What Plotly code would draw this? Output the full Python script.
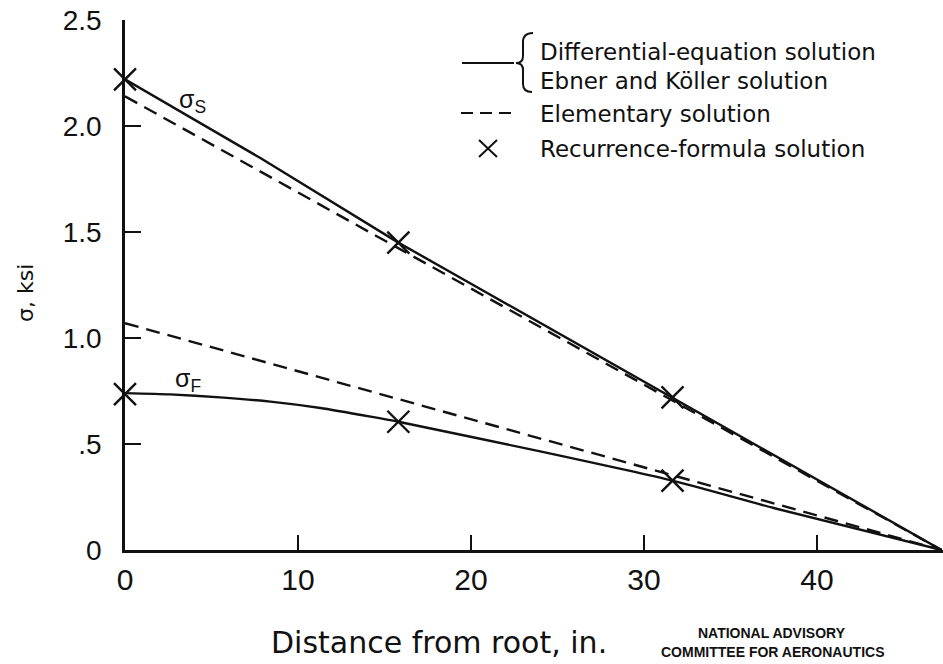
import plotly.graph_objects as go

# ---- data ----
x_s_diff = [0, 7.8, 15.8, 31.65, 47.2]
y_s_diff = [2.22, 1.85, 1.45, 0.72, 0.0]

x_s_elem = [0, 47.2]
y_s_elem = [2.14, 0.0]

x_f_diff = [0, 2.6, 5.5, 8.4, 11.3, 14.2, 15.8, 24.0, 31.65, 37.5, 47.2]
y_f_diff = [0.74, 0.734, 0.72, 0.70, 0.67, 0.629, 0.605, 0.465, 0.327, 0.198, 0.0]

x_f_elem = [0, 47.2]
y_f_elem = [1.07, 0.0]

x_rec = [0, 15.8, 31.65]
y_rec_s = [2.22, 1.45, 0.72]
y_rec_f = [0.735, 0.605, 0.327]

x_ticks = [0, 10, 20, 30, 40]
x_tick_labels = ["0", "10", "20", "30", "40"]
y_ticks = [0, 0.5, 1.0, 1.5, 2.0, 2.5]
y_tick_labels = ["0", ".5", "1.0", "1.5", "2.0", "2.5"]

legend_labels = ["Differential-equation solution", "Ebner and Köller solution",
                 "Elementary solution", "Recurrence-formula solution"]

# ---- layout geometry ----
W, H = 943, 664
ML, MR, MT, MB = 125, 0, 20, 114
PW, PH = W - ML - MR, H - MT - MB


def px(x):
    return (x - ML) / PW


def py(y):
    return (H - MB - y) / PH


FONT = "Liberation Sans, Arial, sans-serif"
TFONT = "DejaVu Sans, sans-serif"
BLACK = "#111111"
LW = 2.4

fig = go.Figure()

solid = dict(color=BLACK, width=LW)
dashed = dict(color=BLACK, width=LW, dash="14px,8px")

fig.add_trace(go.Scatter(x=x_s_elem, y=y_s_elem, mode="lines", line=dashed, showlegend=False))
fig.add_trace(go.Scatter(x=x_f_elem, y=y_f_elem, mode="lines", line=dashed, showlegend=False))
fig.add_trace(go.Scatter(x=x_s_diff, y=y_s_diff, mode="lines", line=solid, showlegend=False))
fig.add_trace(go.Scatter(x=x_f_diff, y=y_f_diff, mode="lines", line=dict(solid, shape="spline", smoothing=0.6),
                         showlegend=False))
marker = dict(symbol="x-thin", size=22, line=dict(color=BLACK, width=2.4), color=BLACK)
fig.add_trace(go.Scatter(x=x_rec, y=y_rec_s, mode="markers", marker=marker, showlegend=False, cliponaxis=False))
fig.add_trace(go.Scatter(x=x_rec, y=y_rec_f, mode="markers", marker=marker, showlegend=False, cliponaxis=False))

annotations = []
# curve labels
annotations.append(dict(x=3.9, y=2.12, xref="x", yref="y", text="σ<sub>S</sub>", showarrow=False,
                        font=dict(family=FONT, size=25, color=BLACK)))
annotations.append(dict(x=3.65, y=0.80, xref="x", yref="y", text="σ<sub>F</sub>", showarrow=False,
                        font=dict(family=FONT, size=25, color=BLACK)))

# legend texts
leg_y = [52, 81, 114, 149]
for lab, yy in zip(legend_labels, leg_y):
    annotations.append(dict(x=px(538), y=py(yy), xref="paper", yref="paper", text=lab, showarrow=False,
                            xanchor="left", yanchor="middle",
                            font=dict(family=TFONT, size=23, color=BLACK)))

# axis titles
annotations.append(dict(x=px(439), y=py(642), xref="paper", yref="paper", text="Distance from root, in.",
                        showarrow=False, xanchor="center", yanchor="middle",
                        font=dict(family=TFONT, size=30, color=BLACK)))
annotations.append(dict(x=px(25), y=py(293), xref="paper", yref="paper", text="σ, ksi", textangle=-90,
                        showarrow=False, xanchor="center", yanchor="middle",
                        font=dict(family=TFONT, size=22, color=BLACK)))
# NACA credit
annotations.append(dict(x=px(772), y=py(633), xref="paper", yref="paper",
                        text="<b>NATIONAL ADVISORY</b>",
                        showarrow=False, xanchor="center", yanchor="middle",
                        font=dict(family=FONT, size=14, color=BLACK)))
annotations.append(dict(x=px(772), y=py(652), xref="paper", yref="paper",
                        text="<b>COMMITTEE FOR AERONAUTICS</b>",
                        showarrow=False, xanchor="center", yanchor="middle",
                        font=dict(family=FONT, size=14, color=BLACK)))

shapes = []
# legend solid sample
shapes.append(dict(type="line", xref="paper", yref="paper", x0=px(462), x1=px(514), y0=py(63), y1=py(63),
                   line=dict(color=BLACK, width=2)))
# brace
pts = [(533, 33), (523, 33), (523, 42), (523, 56), (523, 63), (516, 63),
       (523, 63), (523, 70), (523, 84), (523, 92), (532, 92)]
P = [(px(a), py(b)) for a, b in pts]
path = (f"M {P[0][0]},{P[0][1]} Q {P[1][0]},{P[1][1]} {P[2][0]},{P[2][1]} "
        f"L {P[3][0]},{P[3][1]} Q {P[4][0]},{P[4][1]} {P[5][0]},{P[5][1]} "
        f"Q {P[6][0]},{P[6][1]} {P[7][0]},{P[7][1]} "
        f"L {P[8][0]},{P[8][1]} Q {P[9][0]},{P[9][1]} {P[10][0]},{P[10][1]}")
shapes.append(dict(type="path", xref="paper", yref="paper", path=path, line=dict(color=BLACK, width=2)))
# legend dashed sample
shapes.append(dict(type="line", xref="paper", yref="paper", x0=px(461), x1=px(513), y0=py(113), y1=py(113),
                   line=dict(color=BLACK, width=2, dash="12px,7px")))
# legend X sample
shapes.append(dict(type="line", xref="paper", yref="paper", x0=px(479), x1=px(497), y0=py(140), y1=py(157),
                   line=dict(color=BLACK, width=2)))
shapes.append(dict(type="line", xref="paper", yref="paper", x0=px(479), x1=px(497), y0=py(157), y1=py(140),
                   line=dict(color=BLACK, width=2)))

fig.update_layout(
    width=W, height=H,
    margin=dict(l=ML, r=MR, t=MT, b=MB, pad=0),
    paper_bgcolor="white", plot_bgcolor="white",
    showlegend=False,
    annotations=annotations,
    shapes=shapes,
    xaxis=dict(range=[0, PW / 17.3], showgrid=False, zeroline=False, showline=True, linecolor=BLACK,
               linewidth=2.5, ticks="inside", ticklen=15, tickwidth=2, tickcolor=BLACK,
               tickvals=x_ticks, ticktext=x_tick_labels, ticklabelstandoff=1,
               tickfont=dict(family=FONT, size=30, color=BLACK)),
    yaxis=dict(range=[0, 2.5], showgrid=False, zeroline=False, showline=True, linecolor=BLACK,
               linewidth=2.5, ticks="inside", ticklen=16, tickwidth=2, tickcolor=BLACK,
               tickvals=y_ticks, ticktext=y_tick_labels, ticklabelstandoff=15,
               tickfont=dict(family=FONT, size=28, color=BLACK)),
)

fig.write_html("out.html", config={"displayModeBar": False},
               post_script="document.body.style.margin='0px';")
